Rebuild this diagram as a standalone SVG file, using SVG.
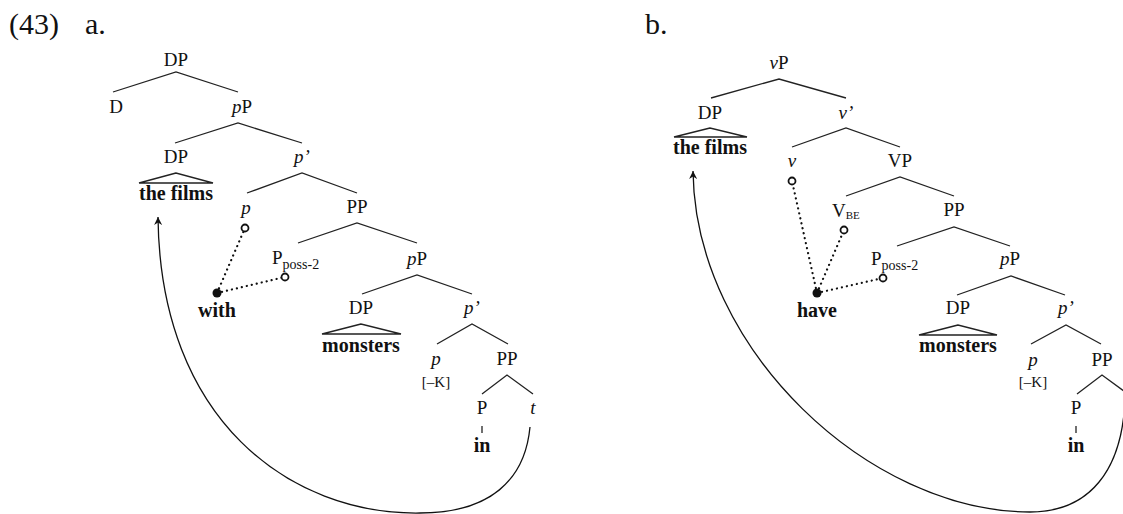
<svg xmlns="http://www.w3.org/2000/svg" width="1123" height="514" viewBox="0 0 1123 514">
<style>
text{font-family:"Liberation Serif","Times New Roman",serif;fill:#111;}
.lab{font-size:19px;text-anchor:middle;}
.it{font-style:italic;}
.w{font-size:20px;font-weight:bold;text-anchor:middle;}
.sub{font-size:14px;}
.sc{font-size:11px;}
.feat{font-size:15px;text-anchor:middle;}
.num{font-size:30px;}
.br{fill:none;stroke:#222;stroke-width:1.3;}
.dot{fill:none;stroke:#111;stroke-width:2.2;stroke-dasharray:0.1 5;stroke-linecap:round;}
.oc{fill:#fff;stroke:#111;stroke-width:1.8;}
.fc{fill:#111;}
.arc{fill:none;stroke:#111;stroke-width:1.3;marker-end:url(#ah);}
</style>
<defs>
<marker id="ah" viewBox="0 0 10 10" refX="10" refY="5" markerWidth="10" markerHeight="8" markerUnits="userSpaceOnUse" orient="auto">
<path d="M0,0 L10,5 L0,10 L3,5 z" fill="#111"/>
</marker>
</defs>
<rect width="1123" height="514" fill="#fff"/>
<g id="labels">
<text class="num" x="9" y="34">(43)</text>
<text class="num" x="85" y="34">a.</text>
<text class="num" x="645" y="34">b.</text>
</g>
<g id="connectors">
<polyline class="br" points="113,92 176,72 238,92"/>
<polyline class="br" points="175,143 238,123 302,143"/>
<polyline class="br" points="247,193 302,173 357,193"/>
<polyline class="br" points="298,243 357,223 417,243"/>
<polyline class="br" points="362,294 417,275 472,294"/>
<polyline class="br" points="437,344 472,324 508,344"/>
<polyline class="br" points="482,394 507,375 533,394"/>
<polygon class="br" points="176,173 139,183 213,183"/>
<polygon class="br" points="361,324 322,334 401,334"/>
<line class="br" x1="482" y1="426" x2="482" y2="433"/>
<line class="dot" x1="217" y1="293" x2="245" y2="228"/>
<line class="dot" x1="217" y1="293" x2="285" y2="277"/>
<path class="arc" d="M530,427 C525,480 490,513 420,513 C290,515 160,420 158,217"/>
<polyline class="br" points="711,98 779,79 846,98"/>
<polyline class="br" points="792,147 846,128 900,147"/>
<polyline class="br" points="846,196 900,177 954,196"/>
<polyline class="br" points="897,246 954,227 1010,246"/>
<polyline class="br" points="957,295 1011,276 1065,295"/>
<polyline class="br" points="1031,344 1066,325 1101,344"/>
<polyline class="br" points="1077,394 1102,375 1128,394"/>
<polygon class="br" points="710,128 674,137 747,137"/>
<polygon class="br" points="958,325 919,335 997,335"/>
<line class="br" x1="1076" y1="426" x2="1076" y2="433"/>
<line class="dot" x1="817" y1="293" x2="792" y2="181"/>
<line class="dot" x1="817" y1="293" x2="844" y2="230"/>
<line class="dot" x1="817" y1="293" x2="883" y2="278"/>
<path class="arc" d="M1125,400 C1122,470 1090,512 1030,512 C870,512 695,350 693,171"/>
</g>
<g id="a-DP-root"><text class="lab" x="176" y="66">DP</text></g>
<g id="a-D"><text class="lab" x="116" y="113">D</text></g>
<g id="a-pP1"><text class="lab" x="242" y="113"><tspan class="it">p</tspan>P</text></g>
<g id="a-DP-films"><text class="lab" x="176" y="163">DP</text><text class="w" x="176" y="200">the films</text></g>
<g id="a-pbar1"><text class="lab it" x="302" y="163">p’</text></g>
<g id="a-p1"><text class="lab it" x="246" y="214">p</text><circle class="oc" cx="245" cy="228" r="3.5"/></g>
<g id="a-PP1"><text class="lab" x="357" y="213">PP</text></g>
<g id="a-Pposs"><text x="272" y="264" style="font-size:19px">P<tspan class="sub" dy="5">poss-2</tspan></text><circle class="oc" cx="285" cy="277" r="3.5"/></g>
<g id="a-with"><circle class="fc" cx="217" cy="293" r="4.5"/><text class="w" x="217" y="317">with</text></g>
<g id="a-pP2"><text class="lab" x="417" y="265"><tspan class="it">p</tspan>P</text></g>
<g id="a-DP-monsters"><text class="lab" x="361" y="314">DP</text><text class="w" x="361" y="352">monsters</text></g>
<g id="a-pbar2"><text class="lab it" x="472" y="314">p’</text></g>
<g id="a-p2"><text class="lab it" x="436" y="365">p</text><text class="feat" x="436" y="387">[–K]</text></g>
<g id="a-PP2"><text class="lab" x="507" y="365">PP</text></g>
<g id="a-P"><text class="lab" x="482" y="414">P</text><text class="w" x="482" y="452">in</text></g>
<g id="a-t"><text class="lab it" x="533" y="414">t</text></g>
<g id="b-vP"><text class="lab" x="779" y="69"><tspan class="it">v</tspan>P</text></g>
<g id="b-DP-films"><text class="lab" x="710" y="119">DP</text><text class="w" x="710" y="154">the films</text></g>
<g id="b-vbar"><text class="lab it" x="846" y="119">v’</text></g>
<g id="b-v"><text class="lab it" x="792" y="167">v</text><circle class="oc" cx="792" cy="181" r="3.5"/></g>
<g id="b-VP"><text class="lab" x="900" y="167">VP</text></g>
<g id="b-VBE"><text x="832" y="217" style="font-size:19px">V<tspan class="sc" dy="2">BE</tspan></text><circle class="oc" cx="844" cy="230" r="3.5"/></g>
<g id="b-PP1"><text class="lab" x="954" y="216">PP</text></g>
<g id="b-Pposs"><text x="871" y="265" style="font-size:19px">P<tspan class="sub" dy="5">poss-2</tspan></text><circle class="oc" cx="883" cy="278" r="3.5"/></g>
<g id="b-have"><circle class="fc" cx="817" cy="293" r="4.5"/><text class="w" x="817" y="317">have</text></g>
<g id="b-pP"><text class="lab" x="1010" y="265"><tspan class="it">p</tspan>P</text></g>
<g id="b-DP-monsters"><text class="lab" x="958" y="314">DP</text><text class="w" x="958" y="352">monsters</text></g>
<g id="b-pbar"><text class="lab it" x="1066" y="314">p’</text></g>
<g id="b-p"><text class="lab it" x="1033" y="366">p</text><text class="feat" x="1033" y="387">[–K]</text></g>
<g id="b-PP2"><text class="lab" x="1102" y="366">PP</text></g>
<g id="b-P"><text class="lab" x="1076" y="414">P</text><text class="w" x="1076" y="452">in</text></g>
</svg>
